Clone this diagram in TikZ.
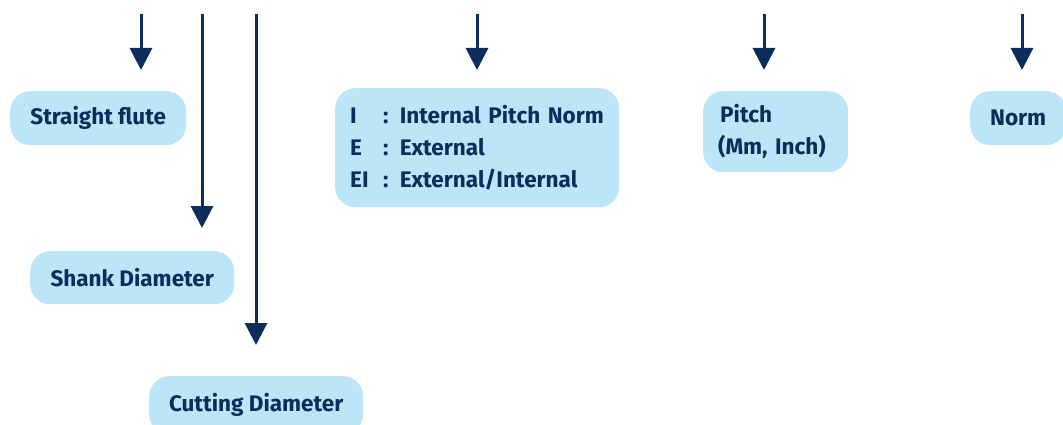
\documentclass[tikz,border=0pt]{standalone}
\usepackage{fontspec}
\setmainfont{Fira Sans}
\usetikzlibrary{arrows.meta}
\definecolor{navy}{HTML}{0B2D5B}
\definecolor{lblue}{HTML}{BCE5F8}
\begin{document}
\begin{tikzpicture}[x=1pt,y=-1pt,
  box/.style={fill=lblue, rounded corners=20pt, anchor=north west, text=navy,
    font=\bfseries\fontsize{22.5}{32}\selectfont, inner sep=0pt, align=left},
  arr/.style={draw=navy, line width=3pt, -{Triangle[width=22pt,length=22pt]}}]
\useasboundingbox (0,0) rectangle (1063,425);
\node[box, minimum width=176pt, minimum height=54pt] (sf) at (10,91) {Straight flute};
\node[box, minimum width=204pt, minimum height=53pt] (sd) at (30,251) {Shank Diameter};
\node[box, minimum width=214pt, minimum height=58pt] (cd) at (149,376) {Cutting Diameter};
\node[box, minimum width=284pt, minimum height=119pt, text width=254pt] (ie) at (335,88)
  {\makebox[33pt][l]{I}: Internal Pitch Norm\\
   \makebox[33pt][l]{E}: External\\
   \makebox[33pt][l]{EI}: External/Internal};
\node[box, minimum width=145pt, minimum height=81pt, text width=115pt] (pi) at (703,91)
  {\hspace*{2pt}Pitch\\(Mm, Inch)};
\node[box, minimum width=96pt, minimum height=54pt] (no) at (970,91) {Norm};
\foreach \n/\x/\yb in {a1/141/70, a2/202/228, a3/256/345, a4/477/70, a5/764/70, a6/1022/70}{
  \coordinate (\n s) at (\x,14);
  \coordinate (\n e) at (\x,\yb);
  \draw[arr] (\n s) -- (\n e);
}
\end{tikzpicture}
\end{document}
